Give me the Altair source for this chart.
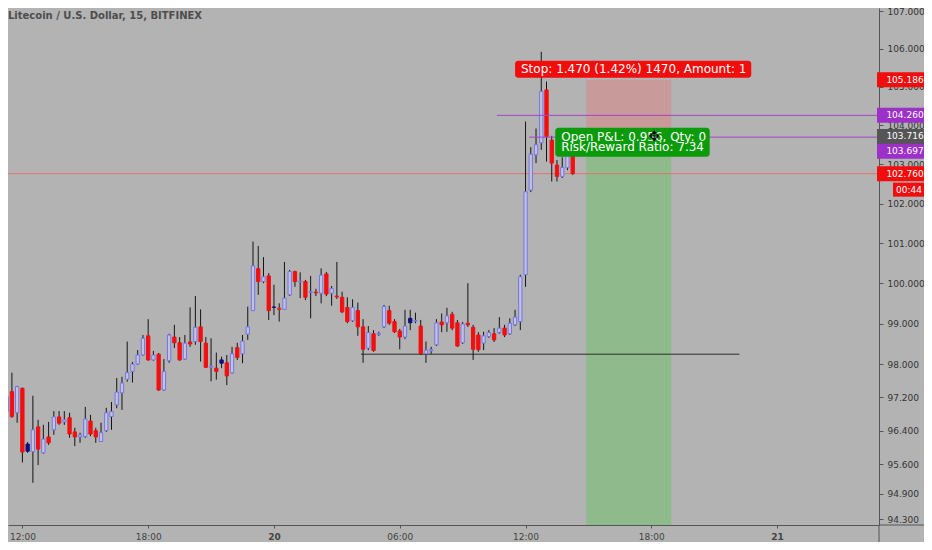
import altair as alt
import pandas as pd

# ---------------- data ----------------
bar_start = "2019-05-19 11:15"   # first 15-minute bar shown
bar_open = [96.86, 97.34, 96.83, 97.42, 96.08, 95.90, 96.49, 95.87, 96.25, 96.42,
            96.73, 96.61, 96.71, 96.37, 96.25, 96.26, 96.63, 96.40, 96.14, 96.40,
            96.74, 97.02, 97.31, 97.64, 97.83, 98.01, 98.23, 98.70, 98.11, 98.25,
            97.38, 98.09, 98.67, 98.53, 98.13, 98.55, 98.56, 98.92, 98.52, 97.93,
            97.91, 98.11, 98.04, 97.79, 98.41, 98.26, 98.74, 99.32, 100.36, 100.04,
            100.18, 99.41, 99.35, 99.35, 99.71, 100.29, 100.03, 100.04, 99.77, 99.78,
            99.75, 100.23, 99.75, 99.68, 99.65, 99.40, 99.07, 99.32, 98.92, 98.40,
            98.75, 98.73, 98.92, 99.32, 99.05, 98.82, 98.67, 99.13, 99.06, 98.94,
            98.26, 98.33, 98.48, 99.04, 99.02, 99.23, 99.02, 98.53, 99.01, 98.91,
            98.72, 98.52, 98.68, 98.75, 98.78, 98.89, 98.75, 98.97, 99.05, 100.21,
            102.34, 103.24, 103.55, 104.92, 103.62, 102.98, 102.69, 102.91, 103.35]
bar_high = [97.55, 97.80, 97.48, 97.44, 96.13, 97.24, 96.66, 96.54, 96.61, 96.87,
            96.87, 96.87, 96.83, 96.47, 96.35, 96.97, 96.78, 96.47, 96.59, 96.95,
            97.09, 97.67, 97.70, 98.56, 98.06, 98.35, 98.72, 99.11, 98.33, 98.28,
            98.13, 98.75, 98.97, 98.67, 98.72, 99.40, 99.68, 99.35, 98.67, 98.64,
            98.29, 98.19, 98.23, 98.43, 98.53, 98.72, 99.42, 101.04, 100.93, 100.65,
            100.25, 99.96, 99.50, 100.53, 100.33, 100.31, 100.27, 100.08, 100.18, 99.86,
            100.37, 100.28, 99.93, 100.53, 99.79, 99.65, 99.60, 99.52, 99.11, 98.94,
            98.84, 98.80, 99.46, 99.44, 99.11, 98.87, 99.34, 99.34, 99.27, 99.09,
            98.56, 98.43, 99.11, 99.25, 99.39, 99.29, 99.09, 99.04, 100.00, 98.97,
            98.79, 98.80, 98.84, 98.89, 99.16, 98.97, 99.13, 99.34, 100.21, 104.10,
            103.44, 103.92, 105.92, 105.14, 103.73, 103.11, 103.18, 103.47, 103.42]
bar_low = [96.71, 96.71, 96.59, 95.64, 95.87, 95.16, 95.58, 95.85, 96.06, 96.30,
           96.54, 96.54, 96.23, 96.03, 96.11, 96.23, 96.27, 96.11, 96.13, 96.37,
           96.42, 96.94, 96.90, 97.58, 97.56, 97.99, 98.21, 98.09, 98.09, 97.36,
           97.36, 98.04, 98.40, 98.09, 98.11, 98.43, 98.48, 98.07, 97.92, 97.59,
           97.63, 97.91, 97.50, 97.77, 98.11, 98.03, 98.60, 99.31, 99.71, 100.00,
           99.09, 99.21, 99.05, 99.34, 99.68, 99.91, 99.63, 99.58, 99.13, 99.68,
           99.50, 99.68, 99.44, 99.61, 99.26, 99.01, 99.04, 98.70, 98.04, 98.35,
           98.31, 98.70, 98.89, 98.97, 98.77, 98.37, 98.62, 98.84, 99.01, 98.23,
           98.04, 98.26, 98.45, 98.79, 98.80, 98.84, 98.43, 98.50, 98.92, 98.11,
           98.31, 98.35, 98.65, 98.55, 98.75, 98.67, 98.72, 98.94, 98.84, 99.91,
           102.29, 103.03, 103.37, 103.07, 102.56, 102.56, 102.65, 102.85, 102.73]
bar_close = [97.22, 96.74, 97.46, 95.89, 95.91, 96.42, 95.96, 96.20, 96.11, 96.73,
             96.58, 96.66, 96.32, 96.25, 96.30, 96.68, 96.32, 96.25, 96.35, 96.83,
             96.86, 97.33, 97.55, 97.80, 98.01, 98.23, 98.64, 98.11, 98.23, 97.38,
             97.83, 98.72, 98.53, 98.11, 98.52, 98.50, 98.91, 98.56, 97.93, 97.96,
             97.83, 98.03, 97.72, 98.26, 98.17, 98.57, 98.92, 100.43, 100.04, 100.16,
             99.32, 99.40, 99.38, 99.63, 100.29, 100.04, 100.05, 99.65, 99.79, 99.76,
             100.20, 99.73, 99.87, 99.66, 99.29, 99.05, 99.40, 98.92, 98.37, 98.78,
             98.34, 98.76, 99.42, 99.01, 98.80, 98.67, 98.94, 99.02, 99.08, 98.26,
             98.35, 98.36, 99.02, 98.97, 99.19, 98.89, 98.45, 98.99, 98.97, 98.37,
             98.36, 98.70, 98.78, 98.60, 98.89, 98.72, 99.01, 99.16, 100.16, 102.30,
             103.26, 103.50, 104.88, 103.71, 103.03, 102.69, 102.92, 103.32, 102.76]

x_ticks = ["2019-05-19 12:00", "2019-05-19 18:00", "2019-05-20 00:00",
           "2019-05-20 06:00", "2019-05-20 12:00", "2019-05-20 18:00",
           "2019-05-21 00:00"]
y_ticks = [107.0, 106.0, 105.0, 104.0, 103.0, 102.0, 101.0, 100.0, 99.0, 98.0,
           97.2, 96.4, 95.6, 94.9, 94.3]
x_view = ["2019-05-19 11:33:07", "2019-05-21 04:37:17"]
y_view = [94.166, 107.08]

chart_title = "Litecoin / U.S. Dollar, 15, BITFINEX"

# short position tool
entry_price = 103.716
stop_price = 105.186
target_price = 92.93
tool_time = ["2019-05-20 14:54", "2019-05-20 18:57"]
stop_text = "Stop: 1.470 (1.42%) 1470, Amount: 1"
stop_box_time = ["2019-05-20 11:30", "2019-05-20 22:46"]
stop_box_price = [105.241, 105.686]
stop_text_at = ["2019-05-20 11:47", 105.463]
pnl_lines = ["Open P&L: 0.956, Qty: 0", "Risk/Reward Ratio: 7.34"]
pnl_box_time = ["2019-05-20 13:25", "2019-05-20 20:47"]
pnl_box_price = [103.194, 103.941]
pnl_text_time = "2019-05-20 13:42"
pnl_text_price = [103.708, 103.436]
cursor_at = ["2019-05-20 18:08", 103.70]

# drawn horizontal lines
ray_price = [104.260, 103.697]
ray_start = ["2019-05-20 10:38", "2019-05-20 12:10"]
support_price = 98.25
support_time = ["2019-05-20 04:09", "2019-05-20 22:12"]
last_price = 102.760
countdown = "00:44"

# price-scale labels
tag_price = [105.186, 104.260, 103.716, 103.697, 102.760]
tag_color = ["#f20d0d", "#9c30c8", "#555555", "#9c30c8", "#f20d0d"]
tag_shift = [0, 0, 0, 14, 0]

# ---------------- helpers ----------------
W, H = 871, 517
PAD_R, PAD_B = 45, 17
BG = "#b3b3b3"
FONT = "DejaVu Sans"


def ms(s):
    return int(pd.Timestamp(s).value // 10**6)


xscale = alt.Scale(type="utc", domain=[ms(s) for s in x_view], nice=False)
yscale = alt.Scale(type="log", domain=y_view, nice=False, zero=False)

xaxis = alt.Axis(
    values=[ms(s) for s in x_ticks],
    labelExpr="utchours(datum.value) == 0 ? utcFormat(datum.value, '%-d') : utcFormat(datum.value, '%H:%M')",
    title=None, grid=False, domainColor="#555555", tickColor="#555555",
    tickSize=3, labelFont=FONT, labelFontSize=9, labelColor="#444444",
    labelPadding=4, labelFlush=False, labelOverlap=False,
    labelFontWeight={"condition": {"test": "utchours(datum.value) == 0", "value": "bold"},
                     "value": "normal"},
)
yaxis = alt.Axis(
    orient="right", values=y_ticks, format=".3f", title=None, grid=False,
    domainColor="#555555", tickColor="#555555", tickSize=4, labelFont=FONT,
    labelFontSize=9, labelColor="#333333", labelPadding=4, labelAlign="left",
    labelFlush=False, labelOverlap=False,
)


def X(f):
    return alt.X(f, type="temporal", scale=xscale, axis=xaxis)


def Y(f):
    return alt.Y(f, type="quantitative", scale=yscale, axis=yaxis)


# ---------------- candles ----------------
times = pd.date_range(bar_start, periods=len(bar_open), freq="15min")
df = pd.DataFrame({
    "t": [ms(t) for t in times],
    "o": bar_open, "h": bar_high, "l": bar_low, "c": bar_close,
})
prev = df["c"].shift(1).fillna(df["o"])
UP_EDGE, HOLLOW, DOWN, NAVY = "#7474ee", "#c3c3da", "#f20f0f", "#10107a"
fills, edges = [], []
for o, c, pc in zip(df["o"], df["c"], prev):
    rising = c >= pc
    if c >= o:
        fills.append(HOLLOW)
        edges.append(UP_EDGE if rising else DOWN)
    else:
        fills.append(NAVY if rising else DOWN)
        edges.append(NAVY if rising else DOWN)
df["fillc"] = fills
df["edgec"] = edges

layers = []

# position tool zones
zones = pd.DataFrame({
    "t0": [ms(tool_time[0])] * 2, "t1": [ms(tool_time[1])] * 2,
    "p0": [entry_price, entry_price], "p1": [stop_price, target_price],
    "col": ["#c99a9a", "#8fba8c"],
})
layers.append(alt.Chart(zones).mark_rect(clip=True).encode(
    x=X("t0"), x2="t1", y=Y("p0"), y2="p1", fill=alt.Fill("col:N", scale=None)))

# support line
sup = pd.DataFrame({"t0": [ms(support_time[0])], "t1": [ms(support_time[1])], "p": [support_price]})
layers.append(alt.Chart(sup).mark_rule(color="#2e2e2e", strokeWidth=1).encode(
    x=X("t0"), x2="t1", y=Y("p")))

# last price line
lp = pd.DataFrame({"p": [last_price]})
layers.append(alt.Chart(lp).mark_rule(color="#e07272", strokeWidth=1).encode(y=Y("p")))

# wicks and bodies
layers.append(alt.Chart(df).mark_rule(color="#151515", strokeWidth=1, clip=True).encode(
    x=X("t"), y=Y("l"), y2="h"))
layers.append(alt.Chart(df).mark_bar(size=3.3, strokeWidth=1, clip=True).encode(
    x=X("t"), y=Y("o"), y2="c",
    fill=alt.Fill("fillc:N", scale=None), stroke=alt.Stroke("edgec:N", scale=None)))

# purple rays
rays = pd.DataFrame({"t0": [ms(s) for s in ray_start], "p": ray_price})
layers.append(alt.Chart(rays).mark_rule(color="#a046c8", strokeWidth=1).encode(
    x=X("t0"), x2=alt.value(W), y=Y("p")))

# stop label
sb = pd.DataFrame({"t0": [ms(stop_box_time[0])], "t1": [ms(stop_box_time[1])],
                   "p0": [stop_box_price[0]], "p1": [stop_box_price[1]]})
layers.append(alt.Chart(sb).mark_rect(color="#f20d0d", cornerRadius=3).encode(
    x=X("t0"), x2="t1", y=Y("p0"), y2="p1"))
st = pd.DataFrame({"t": [ms(stop_text_at[0])], "p": [stop_text_at[1]], "s": [stop_text]})
layers.append(alt.Chart(st).mark_text(align="left", baseline="middle", font=FONT, fontSize=12,
                                      color="white").encode(x=X("t"), y=Y("p"), text="s:N"))

# P&L label
pb = pd.DataFrame({"t0": [ms(pnl_box_time[0])], "t1": [ms(pnl_box_time[1])],
                   "p0": [pnl_box_price[0]], "p1": [pnl_box_price[1]]})
layers.append(alt.Chart(pb).mark_rect(color="#0a9a0a", cornerRadius=3).encode(
    x=X("t0"), x2="t1", y=Y("p0"), y2="p1"))
pt = pd.DataFrame({"t": [ms(pnl_text_time)] * 2, "p": pnl_text_price, "s": pnl_lines})
layers.append(alt.Chart(pt).mark_text(align="left", baseline="middle", font=FONT, fontSize=12,
                                      color="white").encode(x=X("t"), y=Y("p"), text="s:N"))
cur = pd.DataFrame({"t": [ms(cursor_at[0])], "p": [cursor_at[1]], "s": ["\u2725"]})
layers.append(alt.Chart(cur).mark_text(align="center", baseline="middle", font=FONT, fontSize=14,
                                       color="#111111").encode(x=X("t"), y=Y("p"), text="s:N"))

# price scale tags
for p, col, dy in zip(tag_price, tag_color, tag_shift):
    d = pd.DataFrame({"p": [p], "s": [f"{p:.3f}"]})
    layers.append(alt.Chart(d).mark_rect(color=col, yOffset=dy - 7.5, y2Offset=dy + 7.5).encode(
        x=alt.value(W - 2), x2=alt.value(W + PAD_R), y=Y("p"), y2="p"))
    layers.append(alt.Chart(d).mark_text(align="center", baseline="middle", dy=dy, font=FONT,
                                         fontSize=9, color="white").encode(
        x=alt.value(W + 26), y=Y("p"), text="s:N"))

# countdown tag under last price
cd = pd.DataFrame({"p": [last_price], "s": [countdown]})
layers.append(alt.Chart(cd).mark_rect(color="#f20d0d", yOffset=16 - 7, y2Offset=16 + 7).encode(
    x=alt.value(W + 14), x2=alt.value(W + PAD_R), y=Y("p"), y2="p"))
layers.append(alt.Chart(cd).mark_text(align="center", baseline="middle", dy=16, font=FONT,
                                      fontSize=9, color="white").encode(
    x=alt.value(W + 30), y=Y("p"), text="s:N"))

# axis line extensions into the corner
one = pd.DataFrame({"k": [0]})
layers.append(alt.Chart(one).mark_rule(color="#555555", strokeWidth=1).encode(
    x=alt.value(W), y=alt.value(H), y2=alt.value(H + PAD_B)))
layers.append(alt.Chart(one).mark_rule(color="#555555", strokeWidth=1).encode(
    x=alt.value(W), x2=alt.value(W + PAD_R), y=alt.value(H)))

# title
tt = pd.DataFrame({"s": [chart_title]})
layers.append(alt.Chart(tt).mark_text(align="left", baseline="middle", font=FONT, fontSize=10,
                                      fontWeight="bold", color="#4d4d4d").encode(
    x=alt.value(0), y=alt.value(7.5), text="s:N"))

chart = alt.layer(*layers).properties(
    width=W, height=H, background=BG,
    padding={"left": 0, "top": 0, "right": PAD_R, "bottom": PAD_B},
    autosize=alt.AutoSizeParams(type="none"),
).configure_view(stroke="transparent")

chart.save("out.html", embed_options={"renderer": "svg", "actions": False})
